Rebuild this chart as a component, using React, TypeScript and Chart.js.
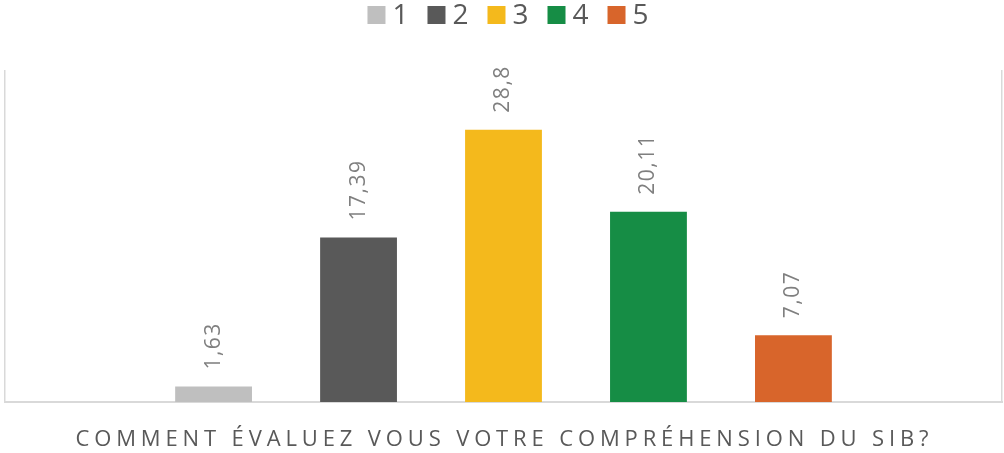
import React, { useEffect, useRef } from "react";
import { Chart, registerables } from "chart.js";

Chart.register(...registerables);

const categories = [""];
const seriesNames = ["1", "2", "3", "4", "5"];
const seriesValues = [1.63, 17.39, 28.8, 20.11, 7.07];
const seriesColors = ["#BFBFBF", "#595959", "#F4B91C", "#168D45", "#D8652B"];
const axisTitle = "COMMENT ÉVALUEZ VOUS VOTRE COMPRÉHENSION DU SIB?";
const yMax = 35;

const FONT = "'Open Sans', 'DejaVu Sans', sans-serif";

const fmt = (v: number) => String(v).replace(".", ",");

const dataLabelPlugin = {
  id: "dataLabels",
  afterDatasetsDraw(chart: any) {
    const ctx = chart.ctx;
    ctx.save();
    ctx.font = `21px ${FONT}`;
    ctx.fillStyle = "#7F7F7F";
    (ctx as any).letterSpacing = "1.5px";
    ctx.textAlign = "left";
    ctx.textBaseline = "middle";
    chart.data.datasets.forEach((ds: any, i: number) => {
      const meta = chart.getDatasetMeta(i);
      meta.data.forEach((bar: any, j: number) => {
        ctx.save();
        ctx.translate(bar.x, bar.y - 17);
        ctx.rotate(-Math.PI / 2);
        ctx.fillText(fmt(ds.data[j]), 0, 0);
        ctx.restore();
      });
    });
    ctx.restore();
  },
};

const legendPlugin = {
  id: "customLegend",
  afterDraw(chart: any) {
    const ctx = chart.ctx;
    ctx.save();
    ctx.font = `28px ${FONT}`;
    ctx.textBaseline = "middle";
    ctx.textAlign = "left";
    const box = 18;
    const gap = 7;
    const itemGap = 19;
    const widths = seriesNames.map((n) => box + gap + ctx.measureText(n).width);
    const total = widths.reduce((a, b) => a + b, 0) + itemGap * (widths.length - 1);
    let x = chart.width / 2 + 6 - total / 2;
    const cy = 15;
    seriesNames.forEach((n, i) => {
      ctx.fillStyle = seriesColors[i];
      ctx.fillRect(x, cy - box / 2, box, box);
      ctx.fillStyle = "#595959";
      ctx.fillText(n, x + box + gap, cy + 1);
      x += widths[i] + itemGap;
    });
    ctx.restore();
  },
};

const axisTitlePlugin = {
  id: "axisTitle",
  afterDraw(chart: any) {
    const ctx = chart.ctx;
    ctx.save();
    ctx.font = `22px ${FONT}`;
    ctx.fillStyle = "#595959";
    ctx.textBaseline = "middle";
    ctx.textAlign = "left";
    const targetWidth = 853;
    const plain = ctx.measureText(axisTitle).width;
    const n = Array.from(axisTitle).length;
    const spacing = Math.max(0, (targetWidth - plain) / (n - 1));
    (ctx as any).letterSpacing = `${spacing}px`;
    const w = plain + spacing * (n - 1);
    ctx.fillText(axisTitle, chart.width / 2 - w / 2, 440);
    ctx.restore();
  },
};

export default function App() {
  const ref = useRef<HTMLCanvasElement>(null);
  useEffect(() => {
    if (!ref.current) return;
    const chart = new Chart(ref.current, {
      type: "bar",
      data: {
        labels: categories,
        datasets: seriesNames.map((name, i) => ({
          label: name,
          data: [seriesValues[i]],
          backgroundColor: seriesColors[i],
          borderWidth: 0,
          categoryPercentage: 0.727,
          barPercentage: 0.53,
        })),
      },
      options: {
        responsive: false,
        animation: false,
        layout: { padding: { top: 71, left: 0, right: 0, bottom: 0 } },
        plugins: {
          legend: { display: false },
          tooltip: { enabled: false },
          title: { display: false },
        },
        scales: {
          x: {
            grid: { display: false },
            ticks: { display: false },
            border: { display: true, color: "#D9D9D9", width: 2 },
            afterFit: (s: any) => {
              s.height = 51;
            },
          },
          y: {
            min: 0,
            max: yMax,
            position: "left",
            grid: { display: false },
            ticks: { display: false },
            border: { display: true, color: "#D9D9D9", width: 1.5 },
            afterFit: (s: any) => {
              s.width = 5;
            },
          },
          y2: {
            type: "linear",
            min: 0,
            max: yMax,
            position: "right",
            grid: { display: false },
            ticks: { display: false },
            border: { display: true, color: "#D9D9D9", width: 1.5 },
            afterFit: (s: any) => {
              s.width = 2;
            },
          },
        },
      } as any,
      plugins: [dataLabelPlugin, legendPlugin, axisTitlePlugin],
    });
    return () => chart.destroy();
  }, []);
  return (
    <div style={{ position: "fixed", left: 0, top: 0, width: 1004, height: 453, background: "#fff" }}>
      <canvas ref={ref} width={1004} height={453} style={{ width: 1004, height: 453 }} />
    </div>
  );
}
